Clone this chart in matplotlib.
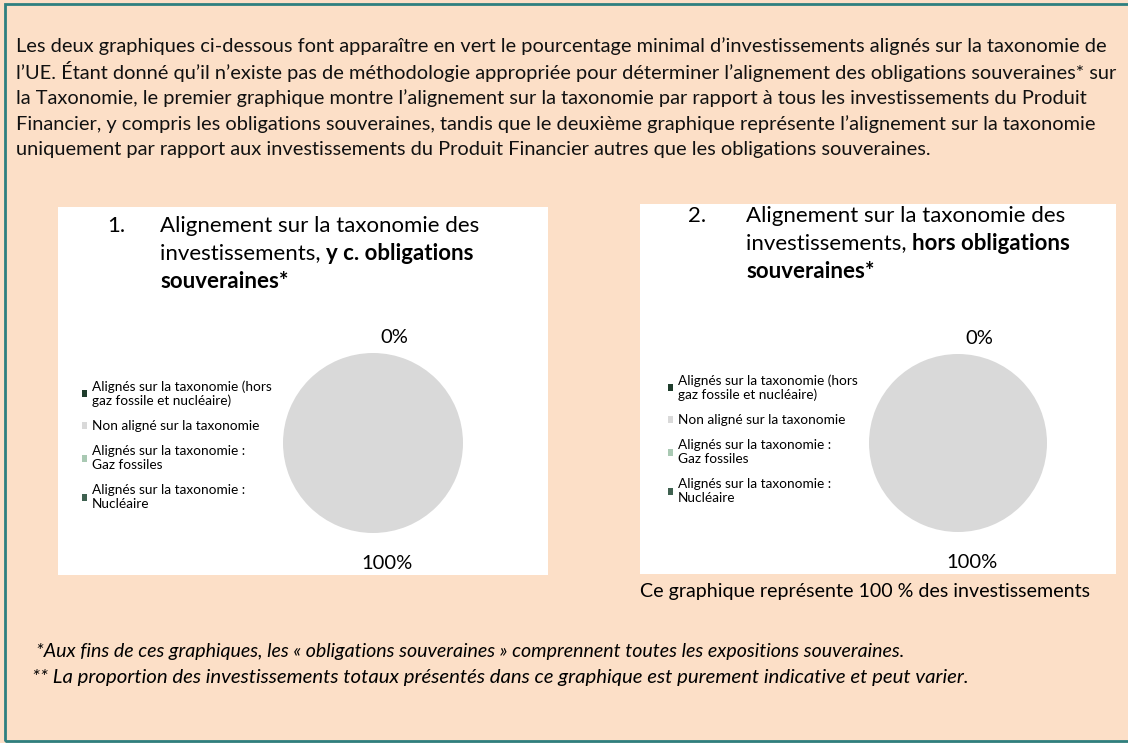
import matplotlib.pyplot as plt
from matplotlib.patches import Rectangle
from matplotlib.transforms import ScaledTranslation

W, H = 1128, 743

# Données des deux graphiques
categories = [
    "Alignés sur la taxonomie (hors\ngaz fossile et nucléaire)",
    "Non aligné sur la taxonomie",
    "Alignés sur la taxonomie :\nGaz fossiles",
    "Alignés sur la taxonomie :\nNucléaire",
]
valeurs_1 = [0, 100, 0, 0]
valeurs_2 = [0, 100, 0, 0]
couleurs = ["#1f3d2c", "#d9d9d9", "#a9c9b3", "#3f6150"]

texte_intro = [
    "Les deux graphiques ci-dessous font apparaître en vert le pourcentage minimal d’investissements alignés sur la taxonomie de",
    "l’UE. Étant donné qu’il n’existe pas de méthodologie appropriée pour déterminer l’alignement des obligations souveraines* sur",
    "la Taxonomie, le premier graphique montre l’alignement sur la taxonomie par rapport à tous les investissements du Produit",
    "Financier, y compris les obligations souveraines, tandis que le deuxième graphique représente l’alignement sur la taxonomie",
    "uniquement par rapport aux investissements du Produit Financier autres que les obligations souveraines.",
]
notes = [
    "*Aux fins de ces graphiques, les « obligations souveraines » comprennent toutes les expositions souveraines.",
    "** La proportion des investissements totaux présentés dans ce graphique est purement indicative et peut varier.",
]

plt.rcParams['font.family'] = ['Lato', 'DejaVu Sans']

fond = "#fcdfc7"
bord = "#2e7f7f"
TAILLE_TITRE = 16


def fx(px):
    return px / W


def fy(py):
    return 1 - py / H


fig = plt.figure(figsize=(W / 100, H / 100), dpi=100)
fig.patch.set_facecolor(fond)

# cadre
fig.patches.append(Rectangle((fx(5), fy(741)), fx(1140), 737 / H, transform=fig.transFigure,
                             fill=False, edgecolor=bord, linewidth=2))

# texte d'introduction
for i, ligne in enumerate(texte_intro):
    fig.text(fx(16), fy(46 + 26 * i), ligne, fontsize=14.4, va='center', ha='left', color='#111111')

# panneaux blancs
for (x0, y0, x1, y1) in [(58, 207, 548, 575), (640, 204, 1116, 574)]:
    fig.patches.append(Rectangle((fx(x0), fy(y1)), fx(x1 - x0), (y1 - y0) / H,
                                 transform=fig.transFigure, facecolor='white', edgecolor='none'))


def titre(x_num, x_txt, y0, num, partie_bold):
    fig.text(fx(x_num), fy(y0), num, fontsize=TAILLE_TITRE, va='center')
    fig.text(fx(x_txt), fy(y0), "Alignement sur la taxonomie des", fontsize=TAILLE_TITRE, va='center')
    t = fig.text(fx(x_txt), fy(y0 + 27.5), "investissements, ", fontsize=TAILLE_TITRE, va='center')
    fig.canvas.draw()
    bb = t.get_window_extent()
    fig.text(bb.x1 / W, fy(y0 + 27.5), partie_bold, fontsize=TAILLE_TITRE, va='center', fontweight='bold')
    fig.text(fx(x_txt), fy(y0 + 55), "souveraines*", fontsize=TAILLE_TITRE, va='center', fontweight='bold')


titre(107, 160, 226, "1.", "y c. obligations")
titre(688, 746, 216, "2.", "hors obligations")


def camembert(cx, cy, r, valeurs, leg_x, leg_y):
    d = 1.25 * r
    ax = fig.add_axes([fx(cx - d), fy(cy + d), fx(2 * d), 2 * d / H])
    ax.set_zorder(3)
    etiquettes = [f"{v}%" if i < 2 else "" for i, v in enumerate(valeurs)]
    wedges, textes = ax.pie(valeurs, colors=couleurs, startangle=90, counterclock=False,
                            labels=etiquettes, labeldistance=1.17,
                            textprops={'fontsize': 14.5, 'ha': 'center'})
    # décalage des étiquettes comme dans l'original (points)
    decalages = [(15, 0), (10, -11), (0, 0), (0, 0)]
    for t, (dx, dy) in zip(textes, decalages):
        t.set_transform(t.get_transform() + ScaledTranslation(dx / 72, dy / 72, fig.dpi_scale_trans))
    leg = fig.legend(wedges, categories, loc='upper left', bbox_to_anchor=(fx(leg_x), fy(leg_y)),
                     frameon=False, fontsize=9.8, handlelength=0.4, handleheight=0.4,
                     handletextpad=0.3, labelspacing=0.95, borderpad=0, borderaxespad=0)
    leg.set_zorder(4)
    return ax


camembert(373, 443, 90, valeurs_1, 82, 380)
camembert(958, 443, 89, valeurs_2, 668, 374)

fig.text(fx(640), fy(591), "Ce graphique représente 100 % des investissements", fontsize=14.1,
         va='center', ha='left')

for i, (note, taille) in enumerate(zip(notes, [14.15, 14.7])):
    fig.text(fx(36 - 4 * i), fy(652 + 25 * i), note, fontsize=taille, style='italic',
             va='center', ha='left')

plt.savefig("out.png", dpi=100, facecolor=fond)
